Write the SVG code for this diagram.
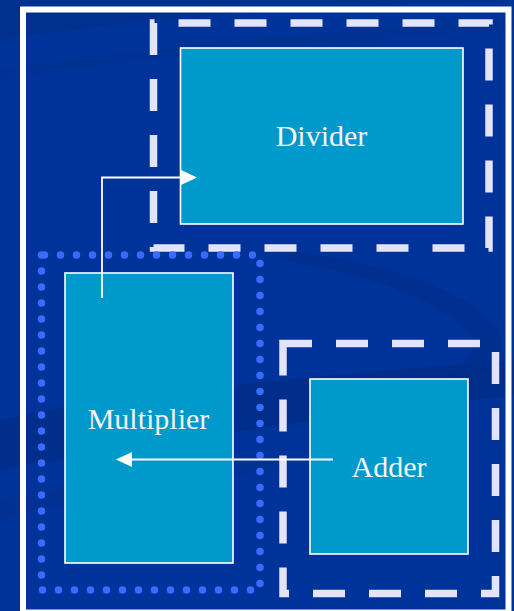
<svg xmlns="http://www.w3.org/2000/svg" width="514" height="611" viewBox="0 0 514 611">
<defs>
<style>
.box{fill:#0099CC;stroke:#FFFFFF;stroke-width:1.6}
.dash{fill:none;stroke:#E4E4F8;stroke-width:7.5;stroke-dasharray:32 24;stroke-linejoin:miter}
.dots{fill:none;stroke:#3A6BFF;stroke-width:7.5;stroke-dasharray:0 16;stroke-linecap:round}
.lbl{font-family:"Liberation Serif","DejaVu Serif",serif;font-size:30px;fill:#F4F4F4;text-anchor:middle}
.conn{fill:none;stroke:#FFFFFF;stroke-width:1.8}
</style>
<marker id="arr" markerUnits="userSpaceOnUse" markerWidth="17" markerHeight="16" refX="0" refY="7.5" orient="auto">
<path d="M0,0 L16,7.5 L0,15 Z" fill="#FFFFFF"/>
</marker>
</defs>
<rect x="0" y="0" width="514" height="611" fill="#003399"/>
<g id="background">
<path d="M0,40 C150,15 350,5 514,0 L0,0 Z" fill="#00318F"/>
<path d="M0,70 C150,45 350,30 514,20 L514,30 C350,40 150,55 0,80 Z" fill="#00318F" opacity="0.5"/>
<path d="M0,420 C120,395 260,380 514,360 L514,395 C300,420 150,445 0,470 Z" fill="#002E8A"/>
<path d="M280,250 C380,260 470,290 500,330 C510,360 470,390 420,405 L400,400 C450,380 480,360 470,335 C440,300 370,275 280,260 Z" fill="#002E8A" opacity="0.7"/>
<path d="M0,500 C100,480 200,470 280,460 L280,470 C200,480 100,495 0,520 Z" fill="#00318F" opacity="0.6"/>
</g>
<rect id="frame" x="23" y="9.5" width="485.5" height="603" fill="none" stroke="#FFFFFF" stroke-width="6"/>
<g id="divider-group">
<path class="dash" d="M153.5,23 V248 H489 V23 Z"/>
</g>
<g id="adder-group">
<path class="dash" d="M283,343.5 V593.5 H495.5 V343.5 Z"/>
</g>
<g id="multiplier-group">
<path class="dots" d="M41.5,255 V590 H260 V255 Z"/>
</g>
<g id="divider">
<rect class="box" x="180.5" y="48" width="282.5" height="176"/>
<text class="lbl" x="321.5" y="146">Divider</text>
</g>
<g id="multiplier">
<rect class="box" x="65" y="273" width="168" height="290"/>
<text class="lbl" x="148.5" y="429">Multiplier</text>
</g>
<g id="adder">
<rect class="box" x="310" y="379" width="158" height="175"/>
<text class="lbl" x="389" y="477">Adder</text>
</g>
<g id="connectors">
<path class="conn" d="M102,298 V177.5 H181" marker-end="url(#arr)"/>
<path class="conn" d="M333,459.5 H132" marker-end="url(#arr)"/>
</g>
</svg>
